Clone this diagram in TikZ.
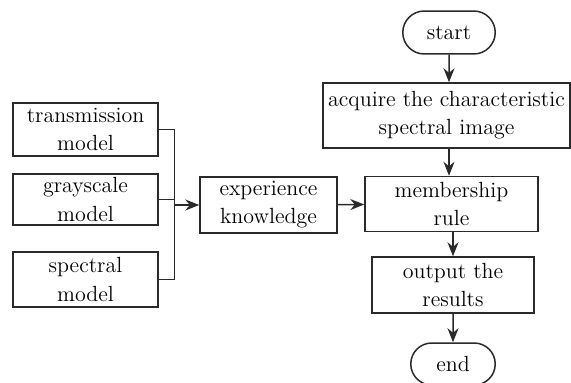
\documentclass[tikz,border=0pt]{standalone}
\usepackage{tikz}
\usetikzlibrary{arrows.meta,calc,positioning,shapes.misc}

\definecolor{linegray}{HTML}{2A2A2A}

\tikzset{
  box/.style={draw=linegray, line width=0.85pt, align=center, inner sep=1pt,
    text=black, font=\fontsize{12.5}{16}\selectfont},
  term/.style={box, rounded rectangle},
  flow/.style={draw=linegray, line width=0.85pt, -{Stealth[length=2.8mm,width=2.2mm]}},
  bus/.style={draw=linegray, line width=0.85pt}
}

\begin{document}
\begin{tikzpicture}[x=0.02cm,y=-0.02cm]
\useasboundingbox (0,0) rectangle (571,382);
% left column
\node[box, minimum width=2.9cm, minimum height=1.06cm] (trans) at (85.5,129.5) {transmission\\model};
\node[box, minimum width=2.9cm, minimum height=1.02cm] (gray) at (85.5,199.5) {grayscale\\model};
\node[box, minimum width=2.9cm, minimum height=1.1cm] (spec) at (85.5,279.5) {spectral\\model};
\node[box, minimum width=2.74cm, minimum height=1.12cm] (exp) at (268.5,205) {experience\\knowledge};
% right column
\node[term, minimum width=1.92cm, minimum height=0.86cm] (start) at (449,32.5) {start};
\node[box, minimum width=4.94cm, minimum height=1.3cm] (acq) at (446.5,115.5) {acquire the characteristic\\spectral image};
\node[box, minimum width=3.46cm, minimum height=1.1cm] (memb) at (451.5,204) {membership\\rule};
\node[box, minimum width=3.24cm, minimum height=1.12cm] (out) at (453,285) {output the\\results};
\node[term, minimum width=1.76cm, minimum height=0.84cm] (end) at (453,364) {end};
% bus
\coordinate (bus) at ($(exp.west)+(-25,0)$);
\draw[bus] (trans.east) -| (bus);
\draw[bus] (spec.east) -| (bus);
\draw[bus] (gray.east) -- (gray.east -| bus);
\draw[flow] (bus) -- (exp);
\draw[flow] (exp) -- (memb);
% main flow
\draw[flow] (start) -- (start |- acq.north);
\draw[flow] (start |- acq.south) -- (start |- memb.north);
\draw[flow] (memb.south -| out) -- (out);
\draw[flow] (out) -- (end);
\end{tikzpicture}
\end{document}
